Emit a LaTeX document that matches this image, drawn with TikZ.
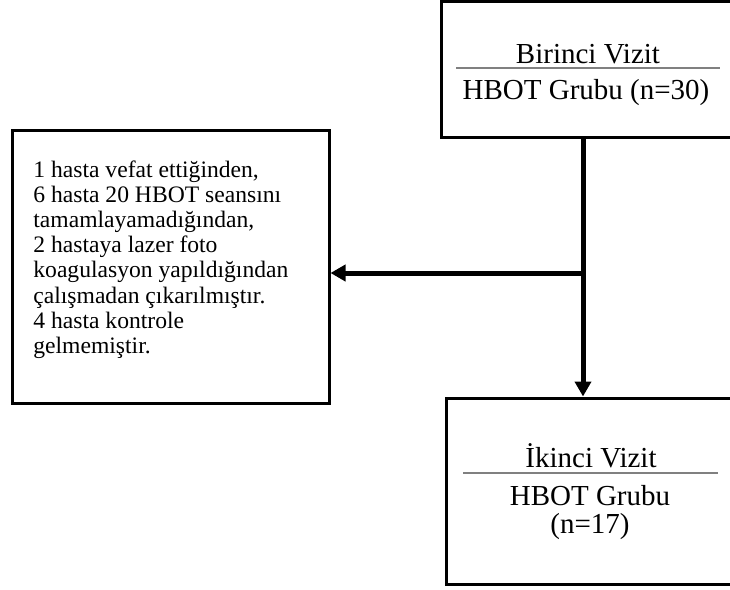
\documentclass[tikz,border=0pt]{standalone}
\usepackage{fontspec}
\setmainfont{Liberation Serif}
\usetikzlibrary{arrows.meta,positioning}
\newcommand{\boxfont}{\fontsize{14.5}{17}\selectfont}
\newcommand{\notefont}{\fontsize{11.8}{12.6}\selectfont}

\begin{document}
\begin{tikzpicture}[x=0.5pt,y=-0.5pt]
                \tikzstyle{every node}+=[inner sep=0pt]
                \tikzstyle{box}=[draw=black, line width=1.5pt, rectangle]
                \tikzstyle{flow}=[black, line width=2.5pt, -{Triangle[length=7.5pt,width=8pt]}]
                \tikzstyle{rule}=[gray, line width=0.75pt]
                \useasboundingbox (0,0) rectangle (730,590);
                % visits
                \node [box, minimum width=145pt, minimum height=68pt] (visit1) at (586,69.5) {};
                \node [anchor=base, font=\boxfont] (visit1title) at (588,63) {Birinci Vizit};
                \draw [rule] (456,68) -- (720,68);
                \node [anchor=base, font=\boxfont] (visit1group) at (586,99) {HBOT Grubu (n=30)};
                \node [box, minimum width=144pt, minimum height=93pt] (visit2) at (590,491) {};
                \node [anchor=base, font=\boxfont] (visit2title) at (591,467) {İkinci Vizit};
                \draw [rule] (463,473) -- (718,473);
                \node [anchor=base, font=\boxfont] (visit2group) at (590,505) {HBOT Grubu};
                \node [anchor=base, font=\boxfont] (visit2n) at (590,533) {(n=17)};
                % excluded
                \node [box, minimum width=158.5pt, minimum height=136.5pt] (excluded) at (170.5,266.5) {};
                \node [anchor=north west, align=left, font=\notefont] (reasons) at (33,160)
                    {1 hasta vefat ettiğinden,\\
                     6 hasta 20 HBOT seansını\\
                     tamamlayamadığından,\\
                     2 hastaya lazer foto\\
                     koagulasyon yapıldığından\\
                     çalışmadan çıkarılmıştır.\\
                     4 hasta kontrole\\
                     gelmemiştir.};
                % arrows
                \coordinate (split) at (583,273);
                \draw [flow] (visit1.south -| split) -- (visit2.north -| split);
                \draw [flow] (split) -- (excluded.east |- split);
            \end{tikzpicture}
\end{document}
